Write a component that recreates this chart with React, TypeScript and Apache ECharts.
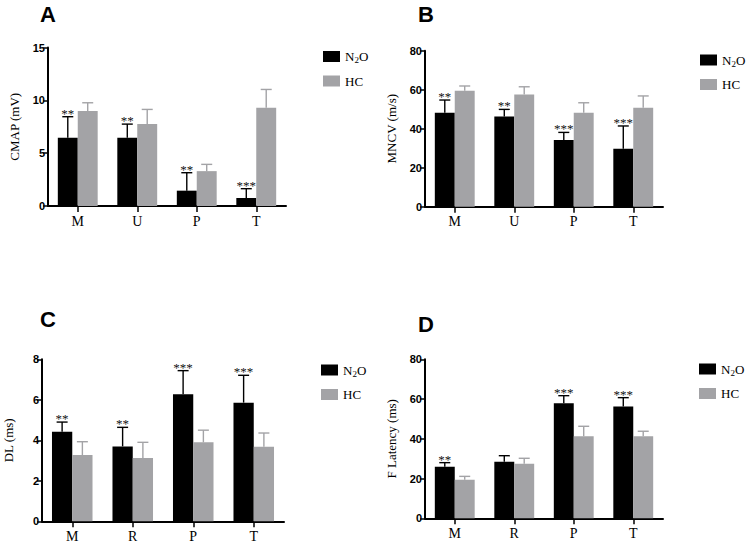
import React, { useEffect, useRef } from "react";
import * as echarts from "echarts";

const catsAB = ["M", "U", "P", "T"];
const catsCD = ["M", "R", "P", "T"];

const cmapN2O = [6.45, 6.45, 1.45, 0.76];
const cmapN2OSd = [2.0, 1.3, 1.7, 0.88];
const cmapHC = [9.0, 7.75, 3.3, 9.3];
const cmapHCSd = [0.77, 1.39, 0.64, 1.73];
const cmapSig = ["**", "**", "**", "***"];

const mncvN2O = [48.2, 46.2, 34.2, 29.7];
const mncvN2OSd = [6.5, 3.7, 3.9, 11.7];
const mncvHC = [59.5, 57.6, 48.2, 50.8];
const mncvHCSd = [2.4, 3.9, 5.1, 6.0];
const mncvSig = ["**", "**", "***", "***"];

const dlN2O = [4.42, 3.7, 6.27, 5.86];
const dlN2OSd = [0.48, 0.94, 1.17, 1.35];
const dlHC = [3.27, 3.12, 3.9, 3.68];
const dlHCSd = [0.66, 0.78, 0.6, 0.68];
const dlSig = ["**", "**", "***", "***"];

const flN2O = [26.0, 28.5, 57.9, 56.2];
const flN2OSd = [2.0, 3.0, 3.8, 4.5];
const flHC = [19.4, 27.5, 41.3, 41.3];
const flHCSd = [1.7, 2.7, 5.0, 2.5];
const flSig = ["**", "", "***", "***"];

const panelLetters = ["A", "B", "C", "D"];
const yNames = ["CMAP (mV)", "MNCV (m/s)", "DL (ms)", "F Latency (ms)"];
const yMax = [15, 80, 8, 80];
const yInterval = [5, 20, 2, 20];

const SERIF = '"Liberation Serif", "Times New Roman", serif';
const SANS = '"Liberation Sans", Arial, sans-serif';
const BLACK = "#000000";
const GREY = "#a3a3a6";
const CAT_GAP = 0.33;

const panels = [
  {
    cats: catsAB, n2o: cmapN2O, n2oSd: cmapN2OSd, hc: cmapHC, hcSd: cmapHCSd, sig: cmapSig,
    grid: { left: 48, top: 47.5, width: 238, height: 158.5 },
    legend: { left: 323, top: 50 },
    title: { left: 40, top: 3 },
  },
  {
    cats: catsAB, n2o: mncvN2O, n2oSd: mncvN2OSd, hc: mncvHC, hcSd: mncvHCSd, sig: mncvSig,
    grid: { left: 425, top: 50.7, width: 238, height: 156 },
    legend: { left: 700, top: 53.5 },
    title: { left: 418, top: 3 },
  },
  {
    cats: catsCD, n2o: dlN2O, n2oSd: dlN2OSd, hc: dlHC, hcSd: dlHCSd, sig: dlSig,
    grid: { left: 42, top: 359.3, width: 242, height: 162 },
    legend: { left: 321, top: 363.5 },
    title: { left: 40, top: 308 },
  },
  {
    cats: catsCD, n2o: flN2O, n2oSd: flN2OSd, hc: flHC, hcSd: flHCSd, sig: flSig,
    grid: { left: 425, top: 359.3, width: 238, height: 159 },
    legend: { left: 699, top: 362.5 },
    title: { left: 418, top: 313 },
  },
];

function makeErrorSeries(pi: number, vals: number[], sds: number[], side: number, color: string, sig: string[] | null) {
  return {
    type: "custom",
    name: "err" + pi + "_" + side,
    xAxisIndex: pi,
    yAxisIndex: pi,
    z: 5,
    silent: true,
    data: vals.map((v, i) => [i, v, sds[i]]),
    renderItem: (params: any, api: any) => {
      const x = api.value(0);
      const v = api.value(1);
      const e = api.value(2);
      const base = api.coord([x, v]);
      const top = api.coord([x, v + e]);
      const cw = api.size([1, 0])[0];
      const bw = (cw * (1 - CAT_GAP)) / 2;
      const cx = base[0] + (side * bw) / 2;
      const capHalf = 5.5;
      const children: any[] = [
        {
          type: "line",
          shape: { x1: cx, y1: base[1], x2: cx, y2: top[1] },
          style: { stroke: color, lineWidth: 1.4 },
        },
        {
          type: "line",
          shape: { x1: cx - capHalf, y1: top[1], x2: cx + capHalf, y2: top[1] },
          style: { stroke: color, lineWidth: 1.4 },
        },
      ];
      if (sig && sig[params.dataIndex]) {
        children.push({
          type: "text",
          x: cx,
          y: top[1] + 3,
          style: {
            text: sig[params.dataIndex],
            fontSize: 13,
            fontFamily: SERIF,
            fill: "#111111",
            align: "center",
            verticalAlign: "bottom",
          },
        });
      }
      return { type: "group", children };
    },
  };
}

export default function App() {
  const ref = useRef<HTMLDivElement>(null);
  useEffect(() => {
    if (!ref.current) return;
    const chart = echarts.init(ref.current, undefined, { renderer: "svg" });
    const series: any[] = [];
    panels.forEach((p, pi) => {
      series.push({
        type: "bar",
        name: "N2O",
        xAxisIndex: pi,
        yAxisIndex: pi,
        data: p.n2o,
        barGap: "0%",
        barCategoryGap: CAT_GAP * 100 + "%",
        itemStyle: { color: BLACK },
        z: 2,
      });
      series.push({
        type: "bar",
        name: "HC",
        xAxisIndex: pi,
        yAxisIndex: pi,
        data: p.hc,
        barGap: "0%",
        barCategoryGap: CAT_GAP * 100 + "%",
        itemStyle: { color: GREY },
        z: 2,
      });
      series.push(makeErrorSeries(pi, p.n2o, p.n2oSd, -1, BLACK, p.sig));
      series.push(makeErrorSeries(pi, p.hc, p.hcSd, 1, GREY, null));
    });

    const option: any = {
      animation: false,
      backgroundColor: "#ffffff",
      title: panels.map((p, pi) => ({
        text: panelLetters[pi],
        left: p.title.left,
        top: p.title.top,
        padding: 0,
        textStyle: { fontFamily: SANS, fontWeight: "bold", fontSize: 22, color: "#000" },
      })),
      legend: panels.map((p) => ({
        orient: "vertical",
        left: p.legend.left,
        top: p.legend.top,
        padding: 0,
        itemWidth: 17,
        itemHeight: 11,
        itemGap: 10,
        itemTextGap: 8,
        icon: "rect",
        selectedMode: false,
        data: ["N2O", "HC"],
        formatter: (name: string) => (name === "N2O" ? "{a|N}{s|2}{a|O}" : "{a|HC}"),
        textStyle: {
          color: "#000",
          fontFamily: SERIF,
          fontSize: 13,
          rich: {
            a: { fontFamily: SERIF, fontSize: 13, lineHeight: 16, color: "#000" },
            s: { fontFamily: SERIF, fontSize: 9, lineHeight: 9, verticalAlign: "bottom", color: "#000" },
          },
        },
      })),
      grid: panels.map((p) => ({ ...p.grid, containLabel: false })),
      xAxis: panels.map((p, pi) => ({
        type: "category",
        gridIndex: pi,
        data: p.cats,
        axisLine: { show: true, lineStyle: { color: "#000", width: 2 } },
        axisTick: { show: true, alignWithLabel: true, length: 6, lineStyle: { color: "#000", width: 1.5 } },
        axisLabel: { color: "#000", fontFamily: SERIF, fontSize: 14, margin: 8 },
        splitLine: { show: false },
      })),
      yAxis: panels.map((p, pi) => ({
        type: "value",
        gridIndex: pi,
        min: 0,
        max: yMax[pi],
        interval: yInterval[pi],
        name: yNames[pi],
        nameLocation: "middle",
        nameRotate: 90,
        nameGap: 27,
        nameTextStyle: { color: "#000", fontFamily: SERIF, fontSize: 13 },
        axisLine: { show: true, lineStyle: { color: "#000", width: 2 } },
        axisTick: { show: true, length: 5, lineStyle: { color: "#000", width: 1.5 } },
        axisLabel: { color: "#000", fontFamily: SANS, fontWeight: "bold", fontSize: 11, margin: 3 },
        splitLine: { show: false },
      })),
      series,
    };
    chart.setOption(option);
    return () => chart.dispose();
  }, []);
  return (
    <div
      ref={ref}
      style={{ position: "fixed", left: 0, top: 0, width: 753, height: 549, background: "#fff" }}
    />
  );
}
